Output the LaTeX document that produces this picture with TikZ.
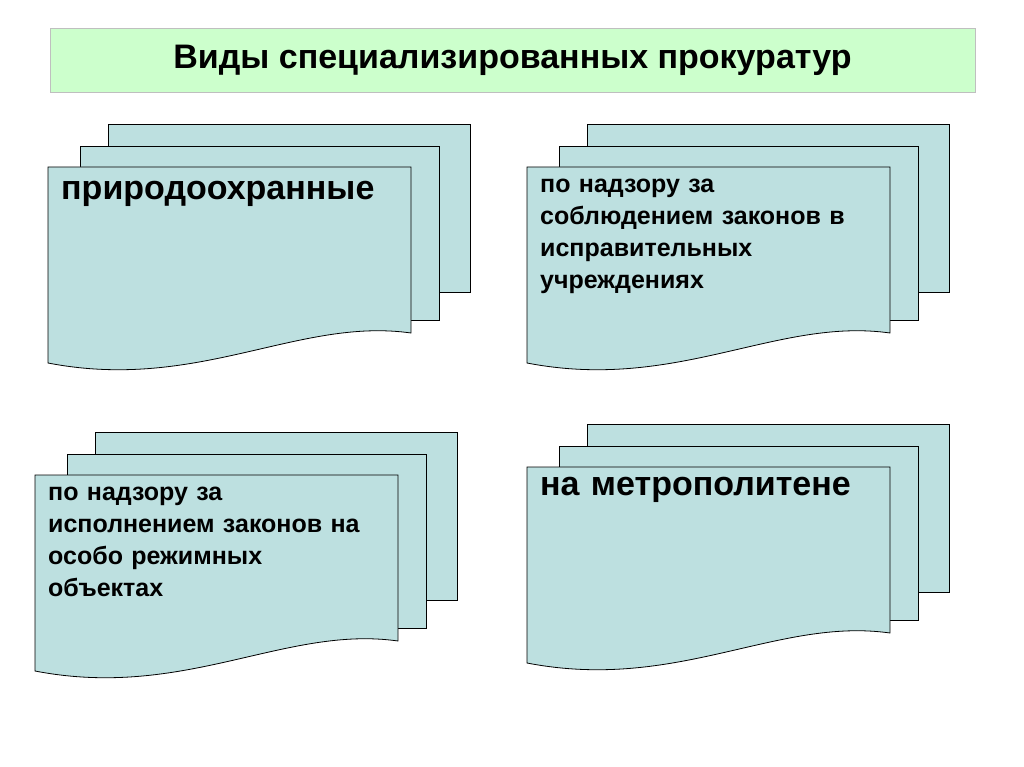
\documentclass[tikz,border=0pt]{standalone}
\usepackage{fontspec}
\setmainfont{Liberation Sans}
\begin{document}
\begin{tikzpicture}[x=1pt,y=-1pt,
  sheet/.style={draw=black,fill=sheetc,line width=0.8pt},
  lbl/.style={anchor=north west,align=left,font=\bfseries\fontsize{25}{32}\selectfont,text width=360pt,inner sep=0pt}]
\definecolor{sheetc}{HTML}{BDE0E0}
\definecolor{titlec}{HTML}{CCFFCC}
\useasboundingbox (0,0) rectangle (1024,767);
\node[draw=black!25,fill=titlec,minimum width=925pt,minimum height=64pt,inner sep=0pt,font=\bfseries\fontsize{34}{40}\selectfont] (title) at (512.5,60) {Виды специализированных прокуратур};
\newcommand{\grp}[3]{% #1 x0 of front, #2 y0 of front, #3 name
  \draw[sheet] (#1+60,#2-43) rectangle (#1+422,#2+125);
  \draw[sheet] (#1+32,#2-21) rectangle (#1+391,#2+153);
  \draw[sheet] (#1,#2) -- (#1+363,#2) -- (#1+363,#2+166)
    .. controls (#1+250,#2+150) and (#1+150,#2+225) .. (#1,#2+196) -- cycle;
  \coordinate (#3) at (#1+13,#2+12);
}
\grp{48}{167}{a}
\grp{527}{167}{b}
\grp{35}{475}{c}
\grp{527}{467}{d}
\node[lbl,font=\bfseries\fontsize{34}{40}\selectfont] (ta) at ([yshift=-2pt]a) {природоохранные};
\node[lbl] (tb) at ([yshift=0pt]b) {по надзору за\\соблюдением законов в\\исправительных\\учреждениях};
\node[lbl] (tc) at ([yshift=0pt]c) {по надзору за\\исполнением законов на\\особо режимных\\объектах};
\node[lbl,font=\bfseries\fontsize{34}{40}\selectfont] (td) at ([yshift=2pt]d) {на метрополитене};
\end{tikzpicture}
\end{document}
